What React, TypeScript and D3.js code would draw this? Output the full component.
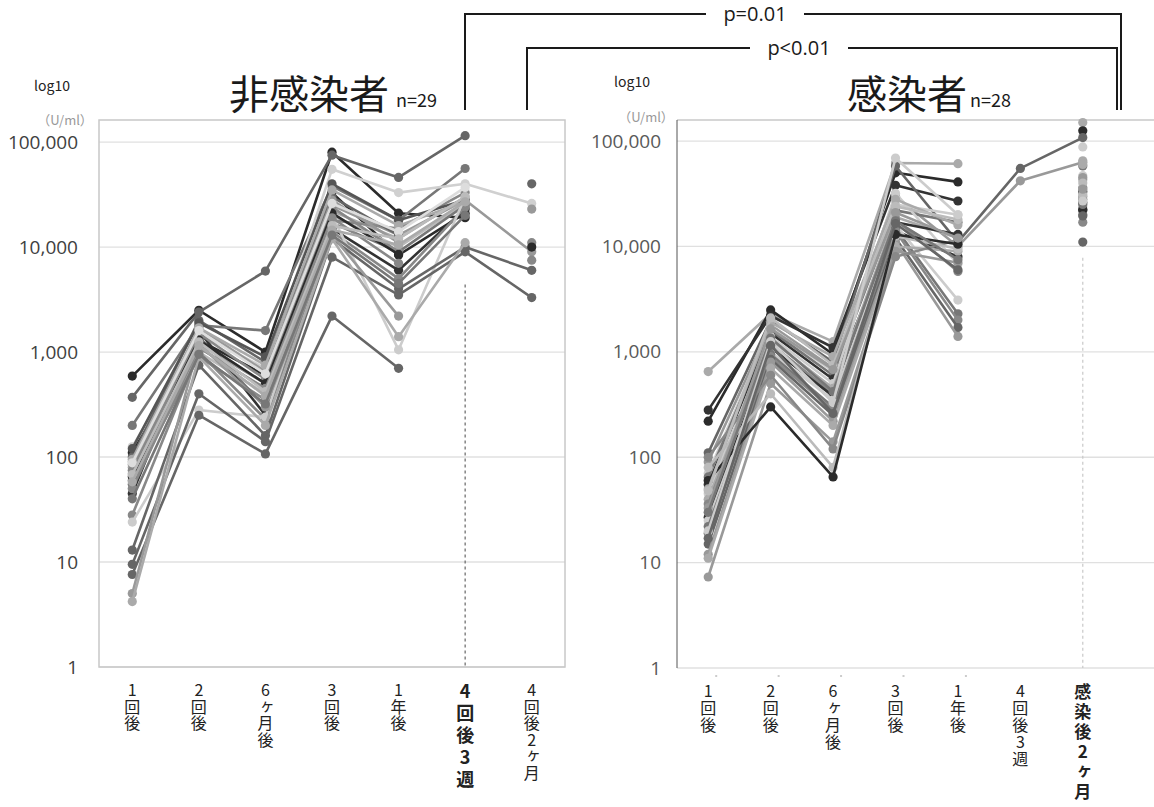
import React from "react";
import * as d3 from "d3";

const leftCats = ["1回後", "2回後", "6ヶ月後", "3回後", "1年後", "4回後3週", "4回後2ヶ月"];
const rightCats = ["1回後", "2回後", "6ヶ月後", "3回後", "1年後", "4回後3週", "感染後2ヶ月"];
const yTicks = [1, 10, 100, 1000, 10000, 100000];

type S = { c: string; v: (number | null)[] };

const leftSeries: S[] = [
  { c: "#2b2b2b", v: [590, 2500, 1000, 80000, 21000, 19000, null] },
  { c: "#666666", v: [370, 2400, 5900, 75000, 46000, 115000, null] },
  { c: "#777777", v: [200, 1800, 1600, 38000, 18000, 56000, null] },
  { c: "#d0d0d0", v: [125, 1500, 700, 55000, 33000, 40000, 26000] },
  { c: "#2b2b2b", v: [110, 1300, 600, 33000, 8400, 21000, null] },
  { c: "#999999", v: [90, 1200, 500, 25000, 13000, 28000, 9000] },
  { c: "#aaaaaa", v: [80, 1100, 450, 22000, 12000, 30000, null] },
  { c: "#bbbbbb", v: [70, 1000, 400, 20000, 10000, 26000, null] },
  { c: "#888888", v: [60, 900, 350, 18000, 15000, 33000, null] },
  { c: "#777777", v: [55, 1400, 300, 17000, 9000, 25000, null] },
  { c: "#333333", v: [45, 1600, 250, 15000, 6000, 23000, null] },
  { c: "#888888", v: [28, 1000, 230, 14000, 5000, 24000, null] },
  { c: "#cccccc", v: [24, 280, 240, 20000, 1050, 30000, null] },
  { c: "#666666", v: [13, 750, 160, 12000, 4000, 10000, 6000] },
  { c: "#666666", v: [9.5, 400, 140, 8000, 3500, 9000, 3300] },
  { c: "#666666", v: [7.6, 250, 107, 2200, 700, null, null] },
  { c: "#999999", v: [5, 1200, 300, 13000, 2200, null, null] },
  { c: "#aaaaaa", v: [4.2, 900, 200, 12000, 1400, 11000, null] },
  { c: "#666666", v: [100, 2000, 800, 30000, 13000, null, 40000] },
  { c: "#999999", v: [85, 1700, 650, 28000, 11000, null, 23000] },
  { c: "#888888", v: [75, 1500, 550, 24000, 9000, null, 11000] },
  { c: "#2b2b2b", v: [65, 1300, 500, 21000, 8500, null, 10000] },
  { c: "#888888", v: [50, 1100, 450, 19000, 7000, null, 7500] },
  { c: "#555555", v: [120, 1900, 900, 40000, 18000, 28000, null] },
  { c: "#aaaaaa", v: [95, 1700, 750, 35000, 16000, 27000, null] },
  { c: "#dddddd", v: [88, 1600, 620, 26000, 14000, 37000, null] },
  { c: "#bbbbbb", v: [68, 1250, 420, 16000, 12000, 30000, null] },
  { c: "#aaaaaa", v: [58, 1150, 380, 14500, 10500, 27000, null] },
  { c: "#777777", v: [40, 950, 320, 13000, 4500, 20000, null] },
];

const rightSeries: S[] = [
  { c: "#aaaaaa", v: [650, 2300, 1250, 62000, 61000, null, 150000] },
  { c: "#2b2b2b", v: [220, 2500, 950, 50000, 41000, null, 125000] },
  { c: "#333333", v: [280, 2200, 1100, 38000, 27000, null, 22000] },
  { c: "#666666", v: [110, 2000, 800, 58000, 11000, 55000, 108000] },
  { c: "#999999", v: [90, 1800, 700, 30000, 10000, 42000, 63000] },
  { c: "#cccccc", v: [70, 1700, 650, 25000, 20000, null, 88000] },
  { c: "#777777", v: [65, 1600, 600, 22000, 17000, null, 58000] },
  { c: "#333333", v: [55, 1500, 550, 14000, 8000, null, 33000] },
  { c: "#cccccc", v: [45, 1400, 500, 32000, 6800, null, 47000] },
  { c: "#aaaaaa", v: [40, 1300, 450, 19000, 12000, null, 43000] },
  { c: "#888888", v: [36, 1200, 400, 18000, 5800, null, 28000] },
  { c: "#333333", v: [27, 1100, 380, 17000, 13000, null, 26000] },
  { c: "#cccccc", v: [25, 1000, 350, 16000, 3100, null, 24000] },
  { c: "#777777", v: [22, 950, 300, 15000, 2300, null, 20000] },
  { c: "#888888", v: [19, 900, 280, 14000, 2000, null, 17000] },
  { c: "#666666", v: [15, 850, 250, 12000, 1700, null, 11000] },
  { c: "#999999", v: [12, 800, 220, 11000, 1400, null, 30000] },
  { c: "#aaaaaa", v: [11, 700, 200, 10000, 9000, null, 65000] },
  { c: "#999999", v: [7.3, 500, 140, 9000, 7000, null, 45000] },
  { c: "#888888", v: [100, 600, 120, 8000, 11500, null, 36000] },
  { c: "#bbbbbb", v: [80, 400, 80, 12500, 9500, null, 31000] },
  { c: "#2b2b2b", v: [60, 300, 65, 13000, 10500, null, 22500] },
  { c: "#aaaaaa", v: [50, 1900, 900, 28000, 16000, null, 60000] },
  { c: "#bbbbbb", v: [48, 2100, 750, 24000, 18000, null, 40000] },
  { c: "#999999", v: [33, 1650, 680, 21000, 12000, null, 35000] },
  { c: "#777777", v: [30, 1350, 420, 17500, 7500, null, 25000] },
  { c: "#cccccc", v: [20, 1250, 330, 69000, 20000, null, 27000] },
  { c: "#666666", v: [17, 1150, 260, 16500, 6000, null, 19500] },
];

const FONT = "'Noto Sans CJK JP', 'Noto Sans', sans-serif";
const NUMFONT = "'Open Sans', 'Noto Sans', sans-serif";

function Panel(props: {
  cats: string[];
  series: S[];
  x0: number;
  x1: number;
  plotRight: number;
  yTop: number;
  yBottom: number;
  yMaxExp: number;
  tickX: number;
  boldIdx: number;
  dashTopVal: number;
  dashColor: string;
  fullBorder: boolean;
  labelY0: number;
  labelGap: number;
  boldGap: number;
  boldSize: number;
  tickColor: string;
  tinyTicks: boolean;
}) {
  const p = props;
  const x = d3.scaleBand<string>().domain(p.cats).range([p.x0, p.x1]).padding(0);
  const cx = (c: string) => (x(c) as number) + x.bandwidth() / 2;
  const y = d3.scaleLog().domain([1, Math.pow(10, p.yMaxExp)]).range([p.yBottom, p.yTop]);
  const line = d3
    .line<number | null>()
    .defined((d) => d != null)
    .x((_, i) => cx(p.cats[i]))
    .y((d) => y(d as number));
  const fmt = d3.format(",");
  const dashCat = p.cats[p.boldIdx];
  return (
    <g>
      {yTicks.map((t) => (
        <line key={"g" + t} x1={p.x0} x2={p.plotRight} y1={y(t)} y2={y(t)} stroke="#e0e0e0" strokeWidth={1.3} />
      ))}
      {p.fullBorder ? (
        <rect x={p.x0} y={p.yTop} width={p.plotRight - p.x0} height={p.yBottom - p.yTop} fill="none" stroke="#c8c8c8" strokeWidth={1.5} />
      ) : (
        <g>
          <line x1={p.x0} x2={p.plotRight} y1={p.yTop} y2={p.yTop} stroke="#c8c8c8" strokeWidth={1.5} />
          <line x1={p.x0} x2={p.x0} y1={p.yTop} y2={p.yBottom} stroke="#555" strokeWidth={1} />
        </g>
      )}
      <line
        x1={cx(dashCat)}
        x2={cx(dashCat)}
        y1={y(p.dashTopVal)}
        y2={p.yBottom}
        stroke={p.dashColor}
        strokeWidth={1.2}
        strokeDasharray="3,3"
      />
      {yTicks.map((t) => (
        <text key={"t" + t} x={p.tickX} y={y(t)} dy="0.35em" textAnchor="end" fontSize={19} fill={p.tickColor} fontFamily={NUMFONT}>
          {fmt(t)}
        </text>
      ))}
      {p.series.map((s, i) => (
        <g key={"s" + i}>
          <path d={line(s.v) || ""} fill="none" stroke={s.c} strokeWidth={2.6} strokeLinejoin="round" />
          {s.v.map((v, j) =>
            v == null ? null : <circle key={j} cx={cx(p.cats[j])} cy={y(v)} r={4.6} fill={s.c} />
          )}
        </g>
      ))}
      {p.tinyTicks &&
        p.cats.slice(0, 5).map((c) => (
          <line key={"tt" + c} x1={cx(c) + 7} x2={cx(c) + 9} y1={p.yBottom + 8} y2={p.yBottom + 8} stroke="#999" strokeWidth={1} />
        ))}
      {p.cats.map((c, i) => {
        const bold = i === p.boldIdx;
        return (
          <text
            key={"l" + c}
            x={cx(c)}
            y={p.labelY0}
            fontFamily={FONT}
            fontSize={bold ? p.boldSize : 16}
            fontWeight={bold ? 700 : 400}
            fill="#222"
            letterSpacing={bold ? p.boldGap : p.labelGap}
            style={{ writingMode: "vertical-rl", textOrientation: "upright" } as any}
          >
            {c}
          </text>
        );
      })}
    </g>
  );
}

export default function App() {
  return (
    <svg width={1154} height={807} style={{ position: "absolute", left: 0, top: 0, background: "#fff" }} fontFamily={FONT}>
      <rect x={0} y={0} width={1154} height={807} fill="#fff" />
      {/* brackets */}
      <path d="M465,110 V14 H1121 V110" fill="none" stroke="#1a1a1a" strokeWidth={2} />
      <rect x={706} y={3} width={98} height={24} fill="#fff" />
      <text x={755} y={21} textAnchor="middle" fontSize={20} fill="#1a1a1a" fontFamily={NUMFONT}>p=0.01</text>
      <path d="M527,110 V48 H1117 V110" fill="none" stroke="#1a1a1a" strokeWidth={2} />
      <rect x={750} y={37} width={98} height={24} fill="#fff" />
      <text x={799} y={55} textAnchor="middle" fontSize={20} fill="#1a1a1a" fontFamily={NUMFONT}>p&lt;0.01</text>

      {/* left titles */}
      <text x={52} y={91} textAnchor="middle" fontSize={14} fill="#222">log10</text>
      <text x={65} y={125} textAnchor="middle" fontSize={13} fill="#999">（U/ml）</text>
      <text x={229} y={109} fontSize={40} fill="#1a1a1a">非感染者</text>
      <text x={396} y={107} fontSize={18} fill="#1a1a1a">n=29</text>

      {/* right titles */}
      <text x={632} y={87} textAnchor="middle" fontSize={14} fill="#222">log10</text>
      <text x={646} y={122} textAnchor="middle" fontSize={13} fill="#999">（U/ml）</text>
      <text x={847} y={109} fontSize={40} fill="#1a1a1a">感染者</text>
      <text x={970} y={107} fontSize={18} fill="#1a1a1a">n=28</text>

      <Panel
        cats={leftCats}
        series={leftSeries}
        x0={99}
        x1={565}
        plotRight={565}
        yTop={120}
        yBottom={667}
        yMaxExp={5.21}
        tickX={78}
        boldIdx={5}
        dashTopVal={4400}
        dashColor="#666"
        fullBorder={true}
        labelY0={682}
        labelGap={0.5}
        boldGap={4}
        boldSize={18}
        tickColor="#404040"
        tinyTicks={false}
      />
      <Panel
        cats={rightCats}
        series={rightSeries}
        x0={677}
        x1={1114}
        plotRight={1154}
        yTop={120}
        yBottom={668}
        yMaxExp={5.2}
        tickX={661}
        boldIdx={6}
        dashTopVal={7800}
        dashColor="#c8c8c8"
        fullBorder={false}
        labelY0={683}
        labelGap={1}
        boldGap={3}
        boldSize={17}
        tickColor="#595959"
        tinyTicks={true}
      />
    </svg>
  );
}
